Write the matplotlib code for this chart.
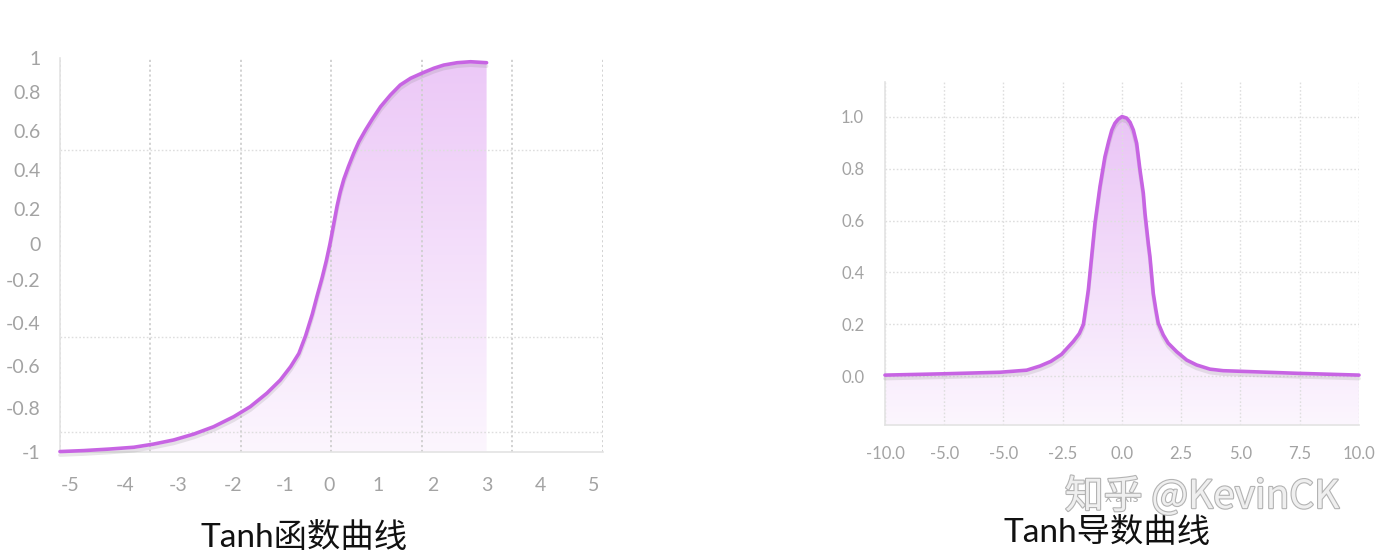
import numpy as np
import matplotlib
matplotlib.use('Agg')
import matplotlib.pyplot as plt
import matplotlib.patheffects as pe
from matplotlib.colors import LinearSegmentedColormap

plt.rcParams['font.family'] = ['Lato', 'Noto Sans CJK SC', 'DejaVu Sans']

# ---- data ----
# left panel: tanh curve (drawn only up to x = 3)
tanh_x = [-5.25, -4.79, -4.28, -3.82, -3.44, -3.05, -2.66, -2.28, -1.89, -1.57,
          -1.25, -0.99, -0.79, -0.63, -0.50, -0.37, -0.28, -0.18, -0.10, -0.03,
          0.01, 0.06, 0.11, 0.17, 0.24, 0.33, 0.43, 0.53, 0.66, 0.79,
          0.95, 1.14, 1.33, 1.53, 1.76, 1.98, 2.17, 2.43, 2.69, 3.0]
tanh_y = [-0.998, -0.993, -0.985, -0.976, -0.960, -0.939, -0.909, -0.872, -0.821, -0.770,
          -0.702, -0.635, -0.567, -0.500, -0.410, -0.300, -0.210, -0.115, -0.030, 0.055,
          0.110, 0.180, 0.250, 0.320, 0.385, 0.450, 0.516, 0.575, 0.635, 0.690,
          0.753, 0.812, 0.863, 0.897, 0.924, 0.948, 0.964, 0.976, 0.981, 0.976]
tanh_yticklabels = ['1', '0.8', '0.6', '0.4', '0.2', '0', '-0.2', '-0.4', '-0.6', '-0.8', '-1']
tanh_xticklabels = ['-5', '-4', '-3', '-2', '-1', '0', '1', '2', '3', '4', '5']

# right panel: derivative curve
dtanh_x = [-10.0, -7.54, -5.15, -4.02, -3.46, -3.0, -2.55, -2.05, -1.80, -1.63,
           -1.56, -1.42, -1.28, -1.14, -0.93, -0.72, -0.56, -0.43, -0.30, -0.16,
           0.0, 0.20, 0.34, 0.48, 0.62, 0.76, 0.90, 0.97, 1.04, 1.11,
           1.18, 1.32, 1.43, 1.53, 1.74, 1.95, 2.31, 2.73, 3.15, 3.71,
           4.27, 4.91, 7.37, 10.0]
dtanh_y = [0.005, 0.010, 0.016, 0.024, 0.040, 0.058, 0.085, 0.135, 0.165, 0.200,
           0.243, 0.333, 0.461, 0.589, 0.730, 0.845, 0.905, 0.948, 0.974, 0.990,
           1.0, 0.994, 0.978, 0.948, 0.897, 0.794, 0.705, 0.628, 0.570, 0.512,
           0.461, 0.320, 0.256, 0.205, 0.160, 0.128, 0.095, 0.063, 0.044, 0.028,
           0.022, 0.020, 0.012, 0.005]
dtanh_yticks = [0.0, 0.2, 0.4, 0.6, 0.8, 1.0]
dtanh_xticks = [-10.0, -7.5, -5.0, -2.5, 0.0, 2.5, 5.0, 7.5, 10.0]
dtanh_xticklabels = ['-10.0', '-5.0', '-5.0', '-2.5', '0.0', '2.5', '5.0', '7.5', '10.0']

titles = ['Tanh函数曲线', 'Tanh导数曲线']
watermark = '知乎 @KevinCK'

LINE = '#c764e3'
TICK = '#a3a3a3'
GRID = '#dedede'
SPINE = '#e3e3e3'


def gradient_fill(ax, x, y, y0, top, c_top, c_bottom):
    poly = ax.fill_between(x, y, y0, color='none', lw=0)
    path = poly.get_paths()[0]
    cmap = LinearSegmentedColormap.from_list('g', [c_bottom, c_top])
    grad = np.linspace(0, 1, 256).reshape(-1, 1)
    im = ax.imshow(grad, cmap=cmap, aspect='auto', origin='lower',
                   extent=[min(x), max(x), y0, top], zorder=1, interpolation='bilinear')
    im.set_clip_path(path, transform=ax.transData)


def draw_line(ax, x, y):
    ax.plot(x, y, color=LINE, lw=2.6, zorder=4, clip_on=False,
            solid_capstyle='round', solid_joinstyle='round',
            path_effects=[pe.SimpleLineShadow(offset=(0, -2.5), shadow_color='#808080', alpha=0.18),
                          pe.Normal()])


def style(ax):
    for s in ['top', 'right']:
        ax.spines[s].set_visible(False)
    for s in ['left', 'bottom']:
        ax.spines[s].set_color(SPINE)
        ax.spines[s].set_linewidth(1.2)
    ax.set_facecolor('white')


fig = plt.figure(figsize=(13.88, 5.56), dpi=100)

# ---- left: tanh ----
ax1 = fig.add_axes([0.0432, 0.1871, 0.3912, 0.7086])
style(ax1)
gradient_fill(ax1, tanh_x, tanh_y, -1.0, 1.0, '#ecc8f7', '#fcf6fe')
draw_line(ax1, tanh_x, tanh_y)
ax1.set_xlim(-5.25, 5.25)
ax1.set_ylim(-1.0, 1.0)

# label positions sit where the picture puts them (not evenly spaced)
ax1.set_yticks([1.0, 0.827, 0.629, 0.431, 0.234, 0.056, -0.127, -0.345, -0.563, -0.777, -1.0])
ax1.set_yticklabels(tanh_yticklabels)
ax1.set_xticks([-5.05, -4.0, -2.96, -1.91, -0.89, -0.04, 0.91, 1.95, 3.0, 4.04, 5.07])
ax1.set_xticklabels(tanh_xticklabels)
ax1.set_xticks(np.linspace(-5.25, 5.25, 7), minor=True)
ax1.set_yticks([1.0, 0.533, 0.056, -0.416, -0.898], minor=True)
ax1.grid(False)
ax1.grid(which='minor', color=GRID, lw=1.0, ls=(0, (1.2, 1.5)))
ax1.tick_params(which='both', length=0, colors=TICK, labelsize=14)
ax1.tick_params(axis='y', pad=14)
ax1.tick_params(axis='x', pad=18)
for t in ax1.yaxis.get_minor_ticks():
    if abs(t.get_loc() - 0.056) < 1e-3:
        t.gridline.set_color('#c4c4c4')
        t.gridline.set_linewidth(1.4)
for t in ax1.xaxis.get_minor_ticks():
    if abs(t.get_loc()) < 1e-3:
        t.gridline.set_color('#cfcfcf')
        t.gridline.set_linewidth(1.3)

# ---- right: derivative ----
ax2 = fig.add_axes([0.6376, 0.2356, 0.3415, 0.6169])
style(ax2)
gradient_fill(ax2, dtanh_x, dtanh_y, -0.187, 1.0, '#eac4f6', '#fcf6fe')
draw_line(ax2, dtanh_x, dtanh_y)
ax2.set_xlim(-10, 10)
ax2.set_ylim(-0.187, 1.133)
ax2.set_yticks(dtanh_yticks)
ax2.set_yticklabels(['%.1f' % v for v in dtanh_yticks])
ax2.set_xticks(dtanh_xticks)
ax2.set_xticklabels(dtanh_xticklabels)
ax2.grid(color=GRID, lw=1.0, ls=(0, (1.2, 1.5)))
ax2.tick_params(which='both', length=0, colors=TICK, labelsize=12)
ax2.tick_params(axis='y', pad=15)
ax2.tick_params(axis='x', pad=15)
ax2.set_xlabel('x axis', color='#b0b0b0', fontsize=10, labelpad=22)

# ---- captions ----
fig.text(0.219, 0.034, titles[0], ha='center', va='center', fontsize=24,
         family=['Lato', 'Noto Sans CJK SC'], color='#111111')
fig.text(0.7976, 0.042, titles[1], ha='center', va='center', fontsize=24,
         family=['Lato', 'Noto Sans CJK SC'], color='#111111')

# watermark
fig.text(0.866, 0.106, watermark, ha='center', va='center', fontsize=28,
         family=['Noto Sans CJK SC', 'DejaVu Sans'], color='#efefef', zorder=10,
         path_effects=[pe.withStroke(linewidth=1.6, foreground='#b3b3b3')])

fig.savefig('out.png', dpi=100, facecolor='white')
